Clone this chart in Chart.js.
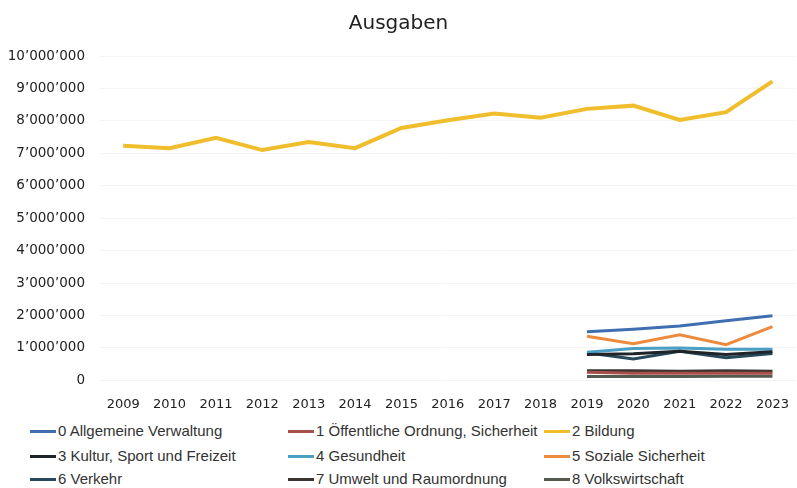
<!DOCTYPE html>
<html>
<head>
<meta charset="utf-8">
<script src="https://cdn.jsdelivr.net/npm/chart.js@4/dist/chart.umd.min.js"></script>
<style>
  html, body { margin: 0; padding: 0; background: #fff; }
  #wrap { position: relative; width: 797px; height: 488px; }
  #chart { position: absolute; left: 0; top: 0; }
  #legend { position: absolute; left: 0; top: 421px; width: 797px; font-family: "Liberation Sans", sans-serif; font-size: 15px; color: #333; }
  .item { position: absolute; height: 20px; line-height: 20px; white-space: nowrap; }
  .item span.sw { display: inline-block; width: 26px; height: 3px; vertical-align: middle; margin-right: 2px; margin-top: -2px; }
</style>
</head>
<body>
<div id="wrap">
  <canvas id="chart" width="797" height="420"></canvas>
  <div id="legend"></div>
</div>
<script>
const years = ["2009","2010","2011","2012","2013","2014","2015","2016","2017","2018","2019","2020","2021","2022","2023"];
const gap = [null, null, null, null, null, null, null, null, null, null];

const verwaltung   = gap.concat([1500000, 1580000, 1680000, 1840000, 1990000]);
const sicherheit   = gap.concat([250000, 220000, 220000, 220000, 220000]);
const bildung      = [7230000, 7160000, 7480000, 7100000, 7350000, 7160000, 7780000, 8020000, 8230000, 8100000, 8370000, 8470000, 8030000, 8270000, 9220000];
const kultur       = gap.concat([800000, 820000, 900000, 800000, 880000]);
const gesundheit   = gap.concat([870000, 980000, 1000000, 960000, 960000]);
const sozial       = gap.concat([1360000, 1130000, 1410000, 1100000, 1660000]);
const verkehr      = gap.concat([850000, 660000, 900000, 700000, 830000]);
const umwelt       = gap.concat([300000, 300000, 280000, 300000, 280000]);
const volkswirt    = gap.concat([120000, 120000, 120000, 130000, 130000]);

const yTicks = [0, 1000000, 2000000, 3000000, 4000000, 5000000, 6000000, 7000000, 8000000, 9000000, 10000000];

const series = [
  { label: "0 Allgemeine Verwaltung", data: verwaltung, color: "#3f6fb0", col: 0, row: 0 },
  { label: "1 Öffentliche Ordnung, Sicherheit", data: sicherheit, color: "#a84f4a", col: 1, row: 0 },
  { label: "2 Bildung", data: bildung, color: "#f0bd2c", col: 2, row: 0, width: 4 },
  { label: "3 Kultur, Sport und Freizeit", data: kultur, color: "#1e2428", col: 0, row: 1 },
  { label: "4 Gesundheit", data: gesundheit, color: "#4b9ec4", col: 1, row: 1 },
  { label: "5 Soziale Sicherheit", data: sozial, color: "#ec8a3e", col: 2, row: 1 },
  { label: "6 Verkehr", data: verkehr, color: "#27495c", col: 0, row: 2 },
  { label: "7 Umwelt und Raumordnung", data: umwelt, color: "#3a3530", col: 1, row: 2 },
  { label: "8 Volkswirtschaft", data: volkswirt, color: "#545a50", col: 2, row: 2 }
];

function fmt(v) {
  return String(v).replace(/\B(?=(\d{3})+(?!\d))/g, "\u2019");
}

const chart = new Chart(document.getElementById("chart"), {
  type: "line",
  data: {
    labels: years,
    datasets: series.map(s => ({
      label: s.label,
      data: s.data,
      borderColor: s.color,
      backgroundColor: s.color,
      borderWidth: s.width || 3,
      pointRadius: 0,
      tension: 0,
      fill: false
    }))
  },
  options: {
    responsive: false,
    animation: false,
    layout: { padding: { left: 0, right: 0, top: 0, bottom: 0 } },
    plugins: {
      legend: { display: false },
      tooltip: { enabled: false },
      title: {
        display: true,
        text: "Ausgaben",
        color: "#222",
        font: { family: "DejaVu Sans", size: 20, weight: "normal" },
        padding: { top: 12, bottom: 20 }
      }
    },
    scales: {
      x: {
        offset: true,
        grid: { display: false },
        border: { display: false },
        ticks: { color: "#222", font: { family: "DejaVu Sans", size: 13 }, maxRotation: 0, padding: 8 }
      },
      y: {
        min: 0,
        max: 10000000,
        afterFit: axis => { axis.width = 100; },
        afterBuildTicks: axis => { axis.ticks = yTicks.map(v => ({ value: v })); },
        grid: { color: "#f4f4f4", drawTicks: false },
        border: { display: false },
        ticks: { color: "#222", font: { family: "DejaVu Sans", size: 13.5 }, padding: 15, callback: v => fmt(v) }
      }
    }
  }
});

// legend in three columns like the original
const colX = [30, 288, 544];
const rowY = [0, 25, 48];
const legend = document.getElementById("legend");
series.forEach(s => {
  const d = document.createElement("div");
  d.className = "item";
  d.style.left = colX[s.col] + "px";
  d.style.top = rowY[s.row] + "px";
  const sw = document.createElement("span");
  sw.className = "sw";
  sw.style.background = s.color;
  d.appendChild(sw);
  d.appendChild(document.createTextNode(s.label));
  legend.appendChild(d);
});
</script>
</body>
</html>
